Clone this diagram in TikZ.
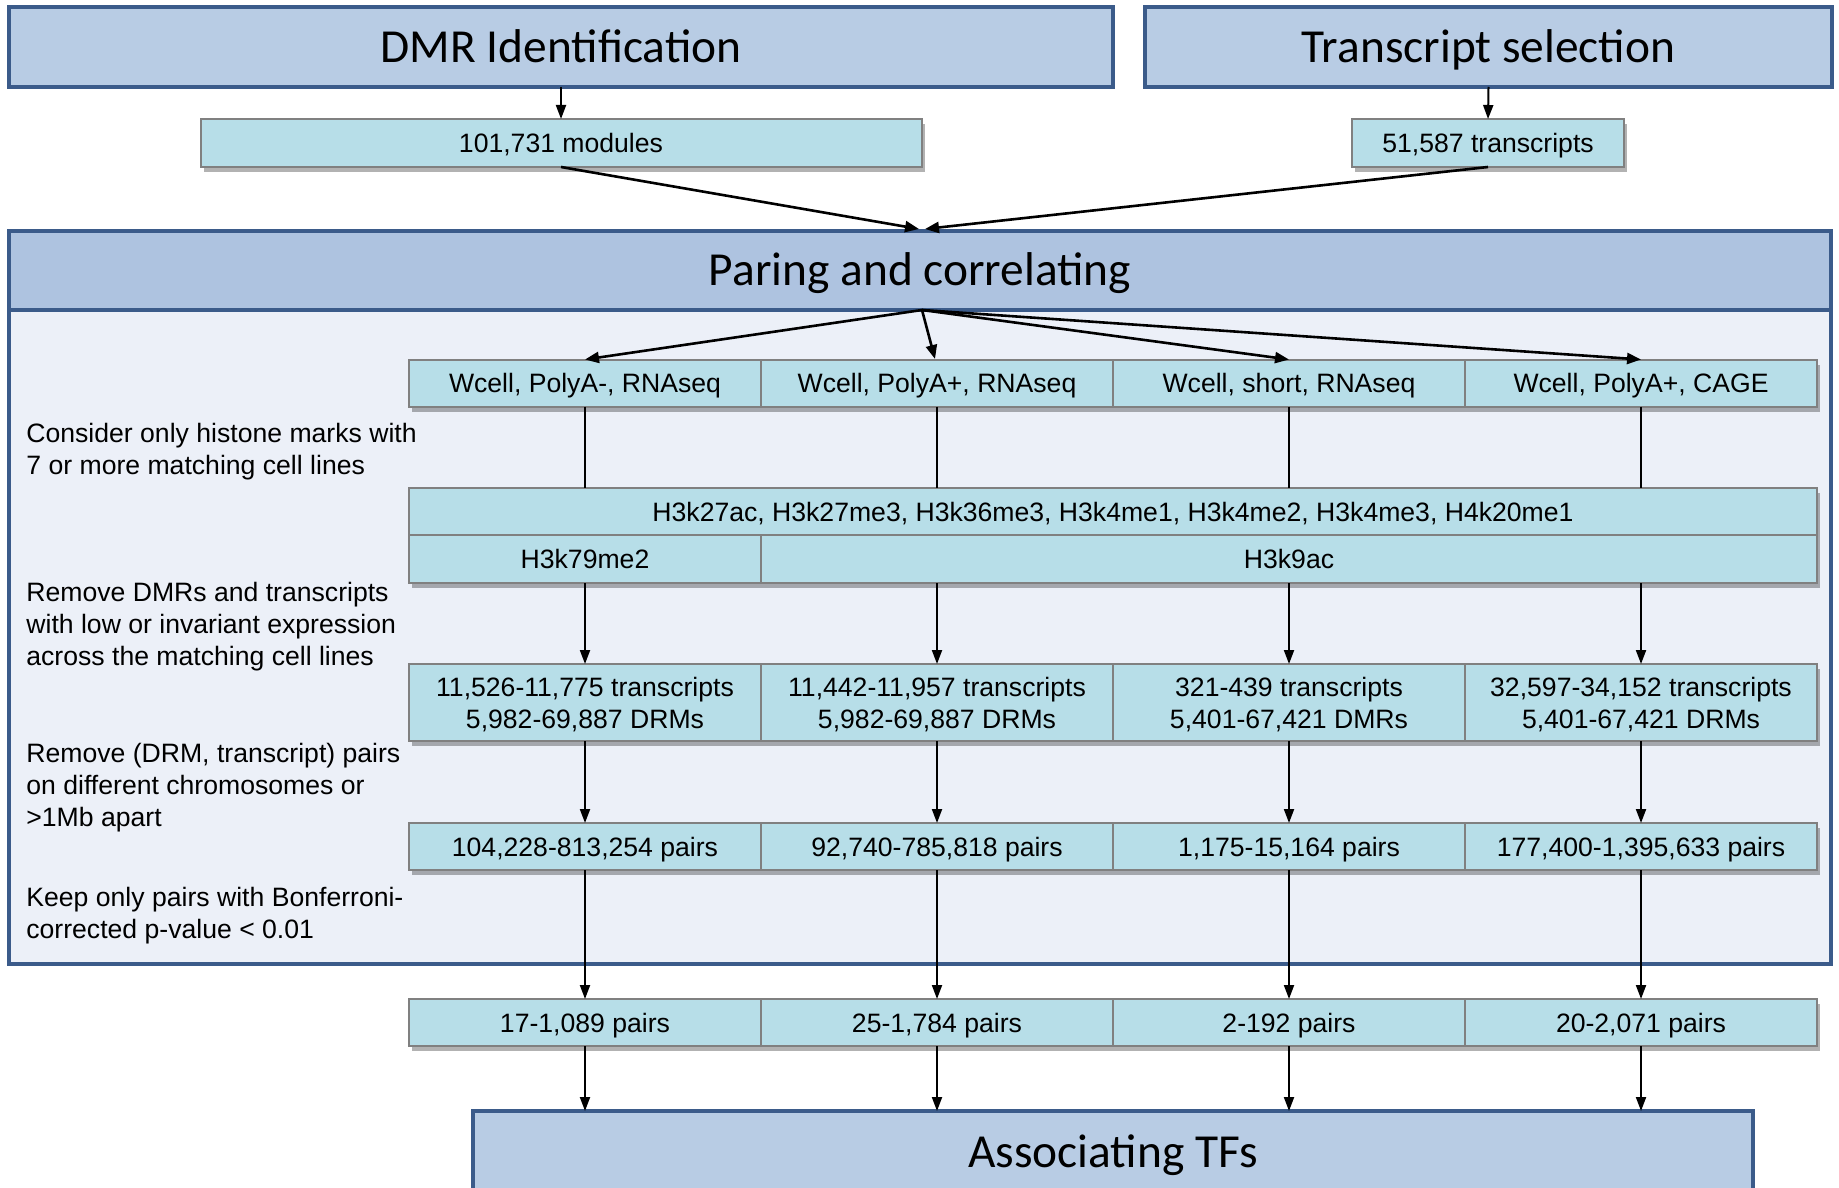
\documentclass[tikz,border=0pt]{standalone}
\usepackage{fontspec}
\setmainfont{Liberation Sans}
\newfontfamily\titlefont{Carlito}
\usetikzlibrary{arrows.meta,shadows}
\definecolor{frameblue}{RGB}{59,91,138}
\definecolor{titlefill}{RGB}{184,204,228}
\definecolor{headfill}{RGB}{174,195,224}
\definecolor{bodyfill}{RGB}{236,240,248}
\definecolor{cellfill}{RGB}{183,222,232}
\definecolor{cellline}{RGB}{128,128,128}
\tikzset{
 titlebox/.style={draw=frameblue, line width=2.3pt, fill=titlefill, font=\titlefont\fontsize{23.7}{28}\selectfont, text height=15.3pt, text depth=0pt, inner sep=0pt, outer sep=0pt},
 cell/.style={draw=cellline, line width=1pt, fill=cellfill, font=\fontsize{13.3}{16}\selectfont, align=center, text height=9.5pt, text depth=0pt, inner sep=0pt, outer sep=0pt, minimum height=23.5pt, minimum width=176pt, drop shadow={shadow xshift=1.5pt, shadow yshift=-2.5pt, opacity=0.3, fill=black}},
 cell2/.style={cell, minimum height=38.5pt, text height=25.5pt},
 note/.style={font=\fontsize{13.3}{16}\selectfont, align=left, anchor=west, inner sep=0pt},
 arr/.style={line width=1pt, -{Triangle[length=7pt,width=5pt]}},
 darr/.style={line width=1.3pt, -{Triangle[length=7pt,width=5.5pt]}},
 link/.style={line width=1pt}
}
\begin{document}
\begin{tikzpicture}[x=0.5pt,y=-0.5pt]
\clip (0,0) rectangle (1839,1187);
\fill[white] (0,0) rectangle (1839,1187);
% top titles
\node[titlebox, minimum width=552pt, minimum height=40pt] (dmr) at (561,47) {DMR Identification};
\node[titlebox, minimum width=343.5pt, minimum height=40pt] (tsel) at (1488.5,47) {Transcript selection};
\node[cell, minimum width=360.5pt, minimum height=24pt] (mod) at (561,143) {101,731 modules};
\node[cell, minimum width=136pt, minimum height=24pt] (trs) at (1488,143) {51,587 transcripts};
\draw[arr] (dmr.south) -- (mod.north);
\draw[arr] (tsel.south) -- (trs.north);
% paring frame
\draw[draw=frameblue, line width=2.3pt, fill=bodyfill] (9,231) rectangle (1831,964);
\node[titlebox, fill=headfill, minimum width=911pt, minimum height=39.5pt] (par) at (920,270.5) {Paring and correlating};
\coordinate (cvL) at (919,229);
\coordinate (cvR) at (925,229);
\draw[darr] (mod.south) -- (cvL);
\draw[darr] (trs.south) -- (cvR);
\coordinate (fan) at (922,310);
% row 1
\node[cell] (p1) at (585,383) {Wcell, PolyA-, RNAseq};
\node[cell] (p2) at (937,383) {Wcell, PolyA+, RNAseq};
\node[cell] (p3) at (1289,383) {Wcell, short, RNAseq};
\node[cell] (p4) at (1641,383) {Wcell, PolyA+, CAGE};
\draw[darr] (fan) -- (p1.north);
\draw[darr] (fan) -- (935,359);
\draw[darr] (fan) -- (p3.north);
\draw[darr] (fan) -- (p4.north);
% histone rows
\node[cell, minimum width=704pt] (hist) at (1113,511.5) {H3k27ac, H3k27me3, H3k36me3, H3k4me1, H3k4me2, H3k4me3, H4k20me1};
\node[cell, minimum height=24pt] (h79) at (585,559) {H3k79me2};
\node[cell, minimum width=528pt, minimum height=24pt] (h9) at (1289,559) {H3k9ac};
\foreach \i in {1,2,3,4}{\draw[link] (p\i.south) -- (p\i.south |- hist.north);}
% transcripts row
\node[cell2] (t1) at (585,702.5) {11,526-11,775 transcripts\\5,982-69,887 DRMs};
\node[cell2] (t2) at (937,702.5) {11,442-11,957 transcripts\\5,982-69,887 DRMs};
\node[cell2] (t3) at (1289,702.5) {321-439 transcripts\\5,401-67,421 DMRs};
\node[cell2] (t4) at (1641,702.5) {32,597-34,152 transcripts\\5,401-67,421 DRMs};
\draw[arr] (h79.south) -- (t1.north);
\foreach \i in {2,3,4}{\draw[arr] (t\i.north |- h9.south) -- (t\i.north);}
% pairs row
\node[cell] (q1) at (585,846.5) {104,228-813,254 pairs};
\node[cell] (q2) at (937,846.5) {92,740-785,818 pairs};
\node[cell] (q3) at (1289,846.5) {1,175-15,164 pairs};
\node[cell] (q4) at (1641,846.5) {177,400-1,395,633 pairs};
\foreach \i in {1,2,3,4}{\draw[arr] (t\i.south) -- (q\i.north);}
% final row
\node[cell] (f1) at (585,1022.5) {17-1,089 pairs};
\node[cell] (f2) at (937,1022.5) {25-1,784 pairs};
\node[cell] (f3) at (1289,1022.5) {2-192 pairs};
\node[cell] (f4) at (1641,1022.5) {20-2,071 pairs};
\foreach \i in {1,2,3,4}{\draw[arr] (q\i.south) -- (f\i.north);}
% associating
\node[titlebox, minimum width=640pt, minimum height=69pt] (assoc) at (1113,1180) {};
\node[font=\titlefont\fontsize{23.7}{28}\selectfont, text height=15.3pt, text depth=0pt, inner sep=0pt] (assoct) at (1113,1152) {Associating TFs};
\foreach \i in {1,2,3,4}{\draw[arr] (f\i.south) -- (f\i.south |- assoc.north);}
% notes
\node[note] (n1) at (26,451.5) {Consider only histone marks with\\7 or more matching cell lines};
\node[note] (n2) at (26,627) {Remove DMRs and transcripts\\with low or invariant expression\\across the matching cell lines};
\node[note] (n3) at (26,787.5) {Remove (DRM, transcript) pairs\\on different chromosomes or\\>1Mb apart};
\node[note] (n4) at (26,915.5) {Keep only pairs with Bonferroni-\\corrected p-value < 0.01};
\end{tikzpicture}
\end{document}
